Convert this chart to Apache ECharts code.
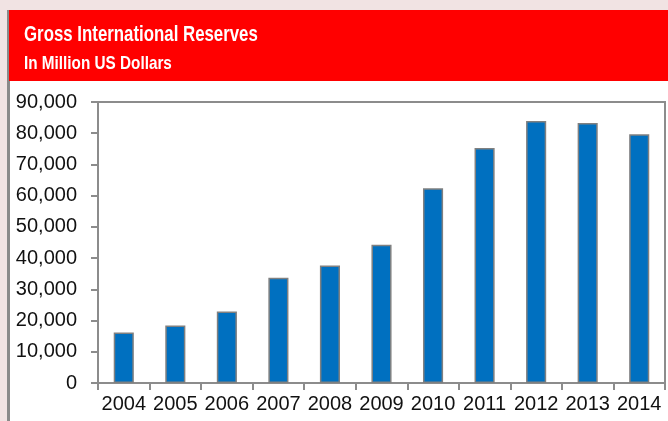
<!DOCTYPE html>
<html>
<head>
<meta charset="utf-8">
<script src="https://cdn.jsdelivr.net/npm/echarts@6/dist/echarts.min.js"></script>
<style>
  html, body { margin: 0; padding: 0; background: #f1e3e3; }
  #chart { width: 668px; height: 421px; }
</style>
</head>
<body>
<div id="chart"></div>
<script>
// Gross international reserves, million US dollars
const years = ['2004', '2005', '2006', '2007', '2008', '2009', '2010', '2011', '2012', '2013', '2014'];
const reserves = [16200, 18400, 22900, 33700, 37600, 44300, 62400, 75300, 83900, 83300, 79700];
const titleText = 'Gross International Reserves';
const subtitleText = 'In Million US Dollars';

const labelFont = '"Liberation Sans", Arial, sans-serif';

const chart = echarts.init(document.getElementById('chart'), null, { renderer: 'canvas' });

chart.setOption({
  animation: false,
  backgroundColor: '#f1e3e3',
  graphic: [
    // white panel with grey left edge
    { type: 'rect', z: -10, shape: { x: 7, y: 10, width: 661, height: 411 }, style: { fill: '#8a8a8a' } },
    { type: 'rect', z: -9, shape: { x: 10, y: 10, width: 658, height: 411 }, style: { fill: '#ffffff' } },
    // red header band
    { type: 'rect', z: -8, shape: { x: 9, y: 10, width: 659, height: 71 }, style: { fill: '#ff0000' } },
    // header text, horizontally condensed
    {
      type: 'text', z: 10, x: 24, y: 35, scaleX: 0.765, scaleY: 1,
      style: { text: titleText, fill: '#ffffff', font: 'bold 22px ' + labelFont, verticalAlign: 'middle', align: 'left' }
    },
    {
      type: 'text', z: 10, x: 24, y: 64, scaleX: 0.805, scaleY: 1,
      style: { text: subtitleText, fill: '#ffffff', font: 'bold 19px ' + labelFont, verticalAlign: 'middle', align: 'left' }
    }
  ],
  grid: {
    left: 98, top: 102, right: 3, bottom: 38,
    show: true, backgroundColor: '#ffffff', borderColor: '#8c8c8c', borderWidth: 2
  },
  xAxis: {
    type: 'category',
    data: years,
    boundaryGap: true,
    axisLine: { show: true, lineStyle: { color: '#8c8c8c', width: 2 } },
    axisTick: { show: true, length: 7, alignWithLabel: false, lineStyle: { color: '#8c8c8c', width: 2 } },
    axisLabel: { color: '#111111', fontSize: 20, fontFamily: labelFont, margin: 11, interval: 0 },
    splitLine: { show: false }
  },
  yAxis: {
    type: 'value',
    min: 0, max: 90000, interval: 10000,
    axisLine: { show: true, lineStyle: { color: '#8c8c8c', width: 2 } },
    axisTick: { show: true, length: 7, lineStyle: { color: '#8c8c8c', width: 2 } },
    axisLabel: {
      color: '#111111', fontSize: 20, fontFamily: labelFont, margin: 21,
      formatter: v => v.toLocaleString('en-US')
    },
    splitLine: { show: false }
  },
  series: [{
    type: 'bar',
    data: reserves,
    barWidth: '39%',
    itemStyle: { color: '#0070c0', borderColor: '#808080', borderWidth: 1.5 }
  }]
});
</script>
</body>
</html>
